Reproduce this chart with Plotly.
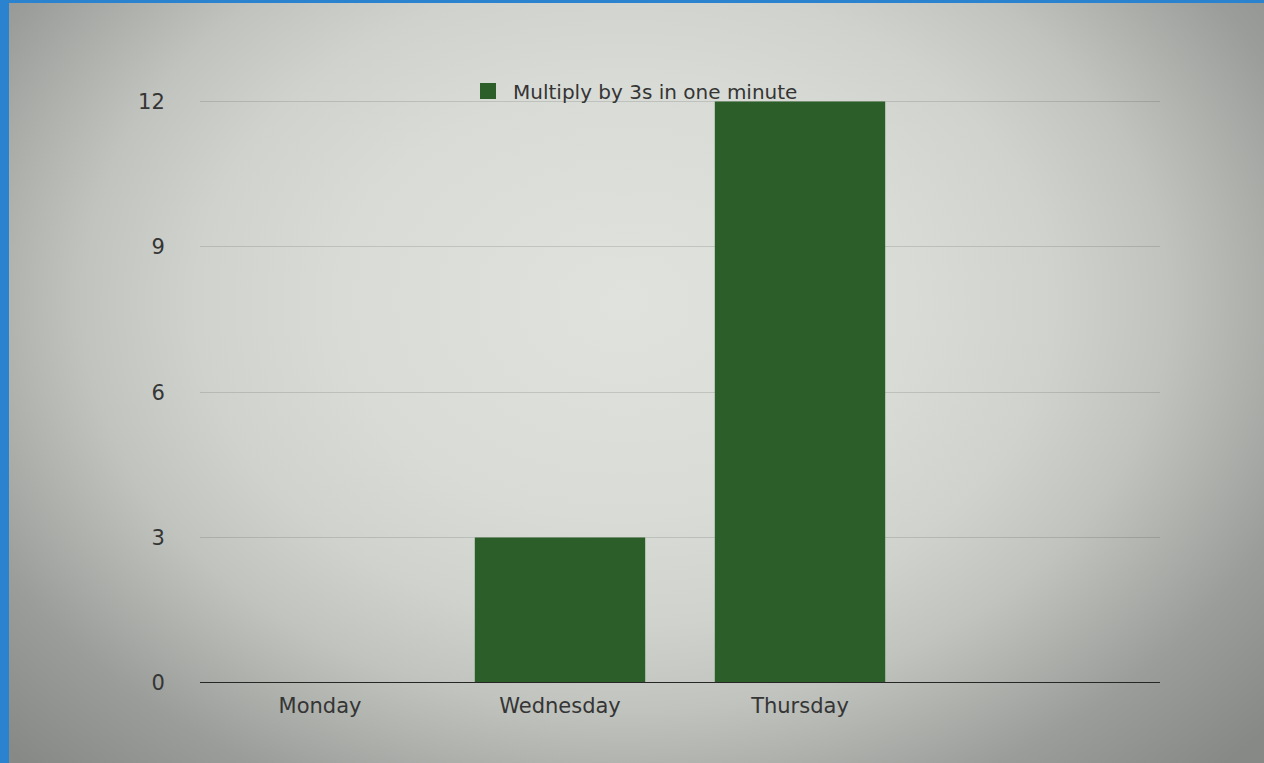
import base64
import plotly.graph_objects as go

categories = ["Monday", "Wednesday", "Thursday"]
values = [0, 3, 12]
series_name = "Multiply by 3s in one minute"
y_ticks = [0, 3, 6, 9, 12]

W, H = 1264, 763
L, R, T, B = 200, 104, 100, 80
pw, ph = W - L - R, H - T - B

def px_x(x):
    return (x - L) / pw

def px_y(y):
    return (H - B - y) / ph

BAR_COLOR = "#2c5e29"

# photo-like vignette background (decoration only)
svg = f"""<svg xmlns='http://www.w3.org/2000/svg' width='{W}' height='{H}' viewBox='0 0 {W} {H}'>
<defs><radialGradient id='g' gradientUnits='userSpaceOnUse' cx='620' cy='300' r='864'
 gradientTransform='translate(620 300) scale(1 0.75) translate(-620 -300)'>
<stop offset='0' stop-color='#e0e2dd'/>
<stop offset='0.333' stop-color='#d9dcd6'/>
<stop offset='0.5' stop-color='#d0d3cd'/>
<stop offset='0.633' stop-color='#c0c3be'/>
<stop offset='0.708' stop-color='#b2b5b0'/>
<stop offset='0.833' stop-color='#9a9d99'/>
<stop offset='1' stop-color='#868986'/>
</radialGradient></defs>
<rect width='{W}' height='{H}' fill='url(#g)'/></svg>"""
bg_src = "data:image/svg+xml;base64," + base64.b64encode(svg.encode()).decode()

fig = go.Figure()
fig.add_trace(go.Bar(
    x=categories, y=values, name=series_name,
    marker=dict(color=BAR_COLOR, line=dict(width=0)),
    showlegend=False,
))
fig.add_trace(go.Scatter(
    x=[None], y=[None], mode="markers", name=series_name,
    marker=dict(symbol="square", size=16, color=BAR_COLOR),
    showlegend=True,
))

fig.update_layout(
    width=W, height=H,
    margin=dict(l=L, r=R, t=T, b=B),
    paper_bgcolor="#2b83d0",
    plot_bgcolor="rgba(0,0,0,0)",
    bargap=0.29,
    font=dict(family="DejaVu Sans, Liberation Sans, Arial", size=21, color="#353535"),
    showlegend=True,
    legend=dict(
        orientation="h", x=px_x(463), y=px_y(91), xanchor="left", yanchor="middle",
        bgcolor="rgba(0,0,0,0)", font=dict(size=20, color="#353535"),
        itemsizing="trace", itemwidth=40,
    ),
    images=[dict(
        source=bg_src, xref="paper", yref="paper",
        x=px_x(9), y=px_y(3), sizex=(W - 9) / pw, sizey=(H - 3) / ph,
        xanchor="left", yanchor="top", sizing="stretch", layer="below",
    )],
    shapes=[
        dict(type="line", xref="paper", yref="y", layer="above",
             x0=0, x1=1, y0=0, y1=0, line=dict(color="#262626", width=2)),
    ],
    xaxis=dict(
        type="category", range=[-0.5, 3.5], showgrid=False, showline=False,
        zeroline=False, ticks="outside", ticklen=4, tickcolor="rgba(0,0,0,0)",
        fixedrange=True,
    ),
    yaxis=dict(
        range=[0, 12.03], tickvals=y_ticks, showgrid=True, gridcolor="rgba(0,0,0,0.12)",
        gridwidth=1, zeroline=False, showline=False, ticks="outside",
        ticklen=30, tickcolor="rgba(0,0,0,0)", fixedrange=True,
    ),
)

fig.write_html("out.html", config={"displayModeBar": False},
               post_script="document.body.style.margin='0';")
